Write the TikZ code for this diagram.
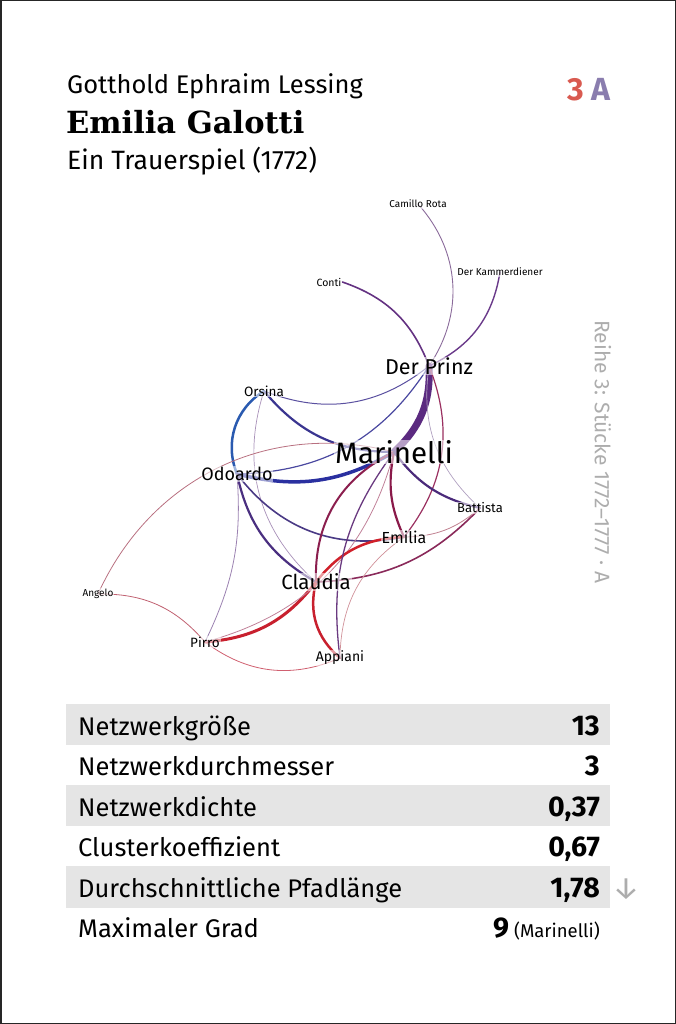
\documentclass[tikz,border=0pt]{standalone}
\usepackage{fontspec}
\setmainfont{Fira Sans}
\newfontfamily\titelfont{DejaVu Serif}
\definecolor{zeilengrau}{HTML}{E5E5E5}
\definecolor{reihengrau}{HTML}{ADADAD}
\definecolor{rot3}{HTML}{D95A50}
\definecolor{lilaA}{HTML}{8A7DAE}
\pgfdeclarelayer{kanten}
\pgfsetlayers{kanten,main}
\tikzset{
  figur/.style = {font=\fontsize{#1}{#1}\selectfont, inner sep=0.8pt,
    fill=white, fill opacity=0.55, text opacity=1},% Figur im Netz
  rel/.style = {line cap=round},% Kante
  zeile/.style = {fill=zeilengrau},% graue Tabellenzeile
  links/.style = {anchor=base west, inner sep=0pt,
    font=\fontsize{25.5}{25.5}\selectfont},
  rechts/.style = {anchor=base east, inner sep=0pt,
    font=\bfseries\fontsize{28.5}{28.5}\selectfont}
}

\begin{document}
\begin{tikzpicture}[x=1pt,y=-1pt]
  \useasboundingbox (0,0) rectangle (676,1024);
  \draw[line width=1.5pt, black!85] (0.75,0.75) rectangle (675.25,1023.25);

  % Kopf
  \node[anchor=base west, inner sep=0pt, font=\fontsize{25.5}{25.5}\selectfont]
    (autor) at (67,94) {Gotthold Ephraim Lessing};
  \node[anchor=base west, inner sep=0pt, font=\titelfont\bfseries\fontsize{30.5}{30.5}\selectfont]
    (titel) at (66,134) {Emilia Galotti};
  \node[anchor=base west, inner sep=0pt, font=\fontsize{26.5}{26.5}\selectfont]
    (untertitel) at (67,170) {Ein Trauerspiel (1772)};
  \node[anchor=base east, inner sep=0pt, font=\bfseries\fontsize{32}{32}\selectfont]
    (nummer) at (611,101) {\textcolor{rot3}{3}\kern8pt\textcolor{lilaA}{A}};
  \node[rotate=-90, inner sep=0pt, text=reihengrau, font=\fontsize{21}{21}\selectfont]
    (reihe) at (603,452) {Reihe 3: Stücke 1772–1777 · A};

  % Figuren
  \node[figur=10]   (rota)    at (418,204) {Camillo Rota};
  \node[figur=10]   (kammer)  at (500,272) {Der Kammerdiener};
  \node[figur=10.5] (conti)   at (329,282) {Conti};
  \node[figur=21.5] (prinz)   at (429,366) {Der Prinz};
  \node[figur=13.5] (orsina)  at (264,391) {Orsina};
  \node[figur=29.5] (mari)    at (394,452) {Marinelli};
  \node[figur=18]   (odo)     at (237,474) {Odoardo};
  \node[figur=13]   (batt)    at (480,508) {Battista};
  \node[figur=16]   (emilia)  at (404,537) {Emilia};
  \node[figur=20.5] (claudia) at (316,582) {Claudia};
  \node[figur=10]   (angelo)  at (98,594)  {Angelo};
  \node[figur=13.5] (pirro)   at (205,642) {Pirro};
  \node[figur=14]   (appiani) at (340,658) {Appiani};

  % Kanten
  \begin{pgfonlayer}{kanten}
  \draw[rel, draw={rgb,255:red,138;green,106;blue,154}, line width=0.9pt] (rota.center) to[bend left=38] (prinz.center);
  \draw[rel, draw={rgb,255:red,106;green,58;blue,138}, line width=1.4pt] (kammer.center) to[bend left=28] (prinz.center);
  \draw[rel, draw={rgb,255:red,100;green,50;blue,130}, line width=1.6pt] (conti.east) to[bend left=25] (prinz.center);
  \draw[rel, draw={rgb,255:red,90;green,80;blue,160}, line width=1pt] (orsina.center) to[bend right=30] (prinz.center);
  \draw[rel, draw={rgb,255:red,91;green,42;blue,128}, line width=7pt] (prinz.center) to[bend left=25] (mari.center);
  \draw[rel, draw={rgb,255:red,74;green,72;blue,160}, line width=1.2pt] (prinz.center) to[bend left=28] (odo.center);
  \draw[rel, draw={rgb,255:red,154;green,48;blue,96}, line width=1.2pt] (prinz.center) to[bend left=30] (emilia.center);
  \draw[rel, draw={rgb,255:red,176;green,160;blue,192}, line width=0.7pt] (prinz.center) to[bend right=28] (batt.center);
  \draw[rel, draw={rgb,255:red,58;green,53;blue,144}, line width=2.2pt] (orsina.center) to[bend right=25] (mari.center);
  \draw[rel, draw={rgb,255:red,42;green,90;blue,176}, line width=2.5pt] (orsina.center) to[bend right=40] (odo.center);
  \draw[rel, draw={rgb,255:red,168;green,144;blue,184}, line width=0.7pt] (orsina.center) to[bend right=33] (claudia.center);
  \draw[rel, draw={rgb,255:red,42;green,48;blue,160}, line width=3.5pt] (odo.center) to[bend right=22] (mari.center);
  \draw[rel, draw={rgb,255:red,74;green,47;blue,128}, line width=2.2pt] (odo.center) to[bend right=24] (claudia.center);
  \draw[rel, draw={rgb,255:red,74;green,58;blue,133}, line width=1.6pt] (odo.center) to[bend right=32] (emilia.center);
  \draw[rel, draw={rgb,255:red,154;green,128;blue,176}, line width=0.8pt] (odo.center) to[bend left=15] (pirro.center);
  \draw[rel, draw={rgb,255:red,184;green,112;blue,128}, line width=0.8pt] (angelo.center) to[bend left=40] (mari.center);
  \draw[rel, draw={rgb,255:red,192;green,96;blue,112}, line width=0.8pt] (angelo.center) to[bend left=25] (pirro.center);
  \draw[rel, draw={rgb,255:red,200;green,32;blue,46}, line width=3pt] (pirro.center) to[bend right=24] (claudia.center);
  \draw[rel, draw={rgb,255:red,192;green,128;blue,152}, line width=0.8pt] (pirro.center) to[bend right=30] (mari.center);
  \draw[rel, draw={rgb,255:red,208;green,96;blue,112}, line width=0.8pt] (pirro.center) to[bend right=30] (appiani.center);
  \draw[rel, draw={rgb,255:red,139;green,30;blue,78}, line width=2pt] (claudia.center) to[bend left=33] (mari.center);
  \draw[rel, draw={rgb,255:red,208;green,32;blue,42}, line width=2.5pt] (claudia.center) to[bend left=25] (emilia.center);
  \draw[rel, draw={rgb,255:red,200;green,32;blue,46}, line width=2.5pt] (claudia.center) to[bend right=32] (appiani.center);
  \draw[rel, draw={rgb,255:red,138;green,42;blue,90}, line width=1.6pt] (claudia.center) to[bend right=22] (batt.center);
  \draw[rel, draw={rgb,255:red,106;green,58;blue,128}, line width=1.3pt] (appiani.center) to[bend left=22] (mari.center);
  \draw[rel, draw={rgb,255:red,208;green,144;blue,152}, line width=0.7pt] (appiani.center) to[bend left=27] (emilia.center);
  \draw[rel, draw={rgb,255:red,138;green,26;blue,74}, line width=2.2pt] (mari.center) to[bend right=18] (emilia.center);
  \draw[rel, draw={rgb,255:red,74;green,42;blue,122}, line width=2.2pt] (mari.center) to[bend right=20] (batt.center);
  \draw[rel, draw={rgb,255:red,192;green,128;blue,144}, line width=0.8pt] (emilia.center) to[bend right=20] (batt.center);
  \end{pgfonlayer}

  % Tabelle
  \fill[zeile] (66,704) rectangle (610,745);
  \fill[zeile] (66,785) rectangle (610,826);
  \fill[zeile] (66,866) rectangle (610,908);
  \node[links]  (groesse)  at (78,735) {Netzwerkgröße};
  \node[rechts] (groesseW) at (600,735) {13};
  \node[links]  (durchm)   at (78,775) {Netzwerkdurchmesser};
  \node[rechts] (durchmW)  at (600,775) {3};
  \node[links]  (dichte)   at (78,816) {Netzwerkdichte};
  \node[rechts] (dichteW)  at (600,816) {0,37};
  \node[links]  (cluster)  at (78,856) {Clusterkoeffizient};
  \node[rechts] (clusterW) at (600,856) {0,67};
  \node[links]  (pfad)     at (78,897) {Durchschnittliche Pfadlänge};
  \node[rechts] (pfadW)    at (600,897) {1,78};
  \node[anchor=base west, inner sep=0pt, text=reihengrau, font=\fontsize{31}{31}\selectfont]
    (pfeil) at (612,898) {↓};
  \node[links]  (grad)     at (78,937) {Maximaler Grad};
  \node[rechts] (gradW)    at (600,937) {9\kern5pt{\mdseries\fontsize{18.5}{18.5}\selectfont (Marinelli)}};
\end{tikzpicture}
\end{document}
